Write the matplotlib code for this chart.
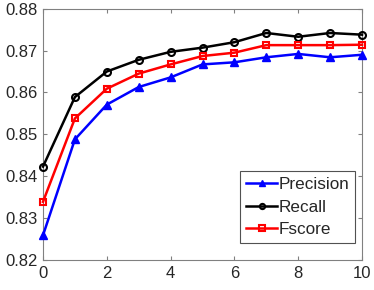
import matplotlib
matplotlib.use("Agg")
import matplotlib.pyplot as plt

x = list(range(11))
precision = [0.8259, 0.8488, 0.8571, 0.8613, 0.8636, 0.8667, 0.8672, 0.8684, 0.8692, 0.8684, 0.8690]
recall = [0.8423, 0.8589, 0.8650, 0.8678, 0.8697, 0.8707, 0.8720, 0.8742, 0.8733, 0.8742, 0.8738]
fscore = [0.8339, 0.8538, 0.8609, 0.8645, 0.8667, 0.8687, 0.8695, 0.8713, 0.8713, 0.8713, 0.8714]

plt.rcParams['font.family'] = ['Liberation Sans', 'DejaVu Sans']

fig = plt.figure(figsize=(3.74, 2.90), dpi=100)
ax = fig.add_axes([43/374, 1 - 260/290, (362 - 43)/374, (260 - 8.7)/290])

ax.plot(x, precision, color='#0000ff', marker='^', markersize=6, linewidth=1.8, label='Precision', clip_on=False, zorder=3)
ax.plot(x, recall, color='black', marker='o', markersize=5, markerfacecolor='none', markeredgewidth=1.5, linewidth=1.8, label='Recall', clip_on=False, zorder=3)
ax.plot(x, fscore, color='#ff0000', marker='s', markersize=5, markerfacecolor='none', markeredgewidth=1.5, linewidth=1.8, label='Fscore', clip_on=False, zorder=3)

ax.set_xlim(0, 10)
ax.set_ylim(0.82, 0.88)
ax.set_xticks([0, 2, 4, 6, 8, 10])
ax.set_yticks([0.82, 0.83, 0.84, 0.85, 0.86, 0.87, 0.88])
ax.set_yticklabels(['0.82', '0.83', '0.84', '0.85', '0.86', '0.87', '0.88'])

gray = '#262626'
for s in ax.spines.values():
    s.set_color('#808080')
    s.set_linewidth(0.8)
ax.tick_params(direction='in', top=True, right=True, length=3, width=0.8, color='#808080', labelsize=12, labelcolor=gray, pad=4)

leg = ax.legend(loc='lower right', bbox_to_anchor=(0.978, 0.066), fontsize=12.3, frameon=True, fancybox=False,
                edgecolor='#262626', handlelength=1.85, handletextpad=0.05, borderpad=0.35, labelspacing=0.45,
                borderaxespad=0, markerscale=0.75)
leg.get_frame().set_linewidth(0.8)
for t in leg.get_texts():
    t.set_color(gray)

fig.savefig('out.png', dpi=100)
